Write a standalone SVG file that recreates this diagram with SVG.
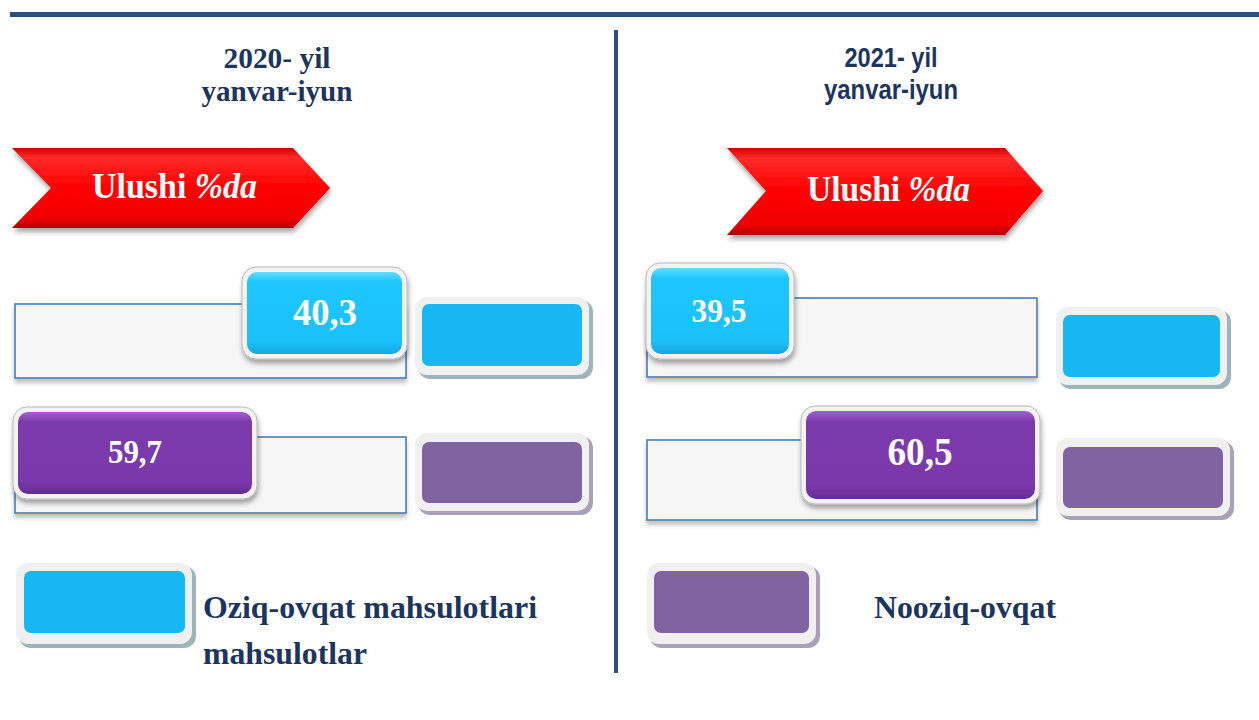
<svg xmlns="http://www.w3.org/2000/svg" width="1259" height="720" viewBox="0 0 1259 720">
<defs>
<style>
.navy{fill:#1c355e}
.ttl{font-family:"Liberation Serif","Times New Roman",serif;font-weight:bold;font-size:30px;text-anchor:middle}
.ttlA{font-family:"Liberation Sans",Arial,sans-serif;font-weight:bold;font-size:27px;text-anchor:middle}
.ban{font-family:"Liberation Serif","Times New Roman",serif;font-weight:bold;font-size:35px;fill:#fff}
.val{font-family:"Liberation Serif","Times New Roman",serif;font-weight:bold;fill:#fff;text-anchor:middle}
.leg{font-family:"Liberation Serif","Times New Roman",serif;font-weight:bold;font-size:32px}
.bar{fill:#f6f6f6;stroke:#4a7ebb;stroke-width:1.6}
.frame{fill:#f3f3f3;stroke:#b9b9b9;stroke-width:1}
.lgOut{fill:#f0f0f0}
</style>
<linearGradient id="red" x1="0" y1="0" x2="0" y2="1">
<stop offset="0" stop-color="#d80000"/>
<stop offset="0.12" stop-color="#ff2a2a"/>
<stop offset="0.5" stop-color="#ff0000"/>
<stop offset="0.88" stop-color="#f00000"/>
<stop offset="1" stop-color="#b00000"/>
</linearGradient>
<linearGradient id="blue" x1="0" y1="0" x2="0" y2="1">
<stop offset="0" stop-color="#63dcff"/>
<stop offset="0.12" stop-color="#1ec6ff"/>
<stop offset="0.85" stop-color="#1bc0fa"/>
<stop offset="1" stop-color="#16a8e0"/>
</linearGradient>
<linearGradient id="purple" x1="0" y1="0" x2="0" y2="1">
<stop offset="0" stop-color="#a35fd0"/>
<stop offset="0.12" stop-color="#7c3bad"/>
<stop offset="0.85" stop-color="#7a38aa"/>
<stop offset="1" stop-color="#642d93"/>
</linearGradient>
<filter id="sh" x="-10%" y="-20%" width="125%" height="160%">
<feDropShadow dx="1" dy="4" stdDeviation="2.5" flood-color="#000" flood-opacity="0.35"/>
</filter>
<filter id="shs" x="-10%" y="-20%" width="125%" height="160%">
<feDropShadow dx="0" dy="4" stdDeviation="2" flood-color="#000" flood-opacity="0.25"/>
</filter>
</defs>

<rect width="1259" height="720" fill="#fff"/>

<g id="frame-lines">
<rect x="10" y="12" width="1249" height="5" fill="#2a4f80"/>
<rect x="614" y="30" width="4" height="643" fill="#2a4f80"/>
</g>

<g id="title-2020">
<text class="ttl navy" x="277" y="68" textLength="107" lengthAdjust="spacingAndGlyphs">2020- yil</text>
<text class="ttl navy" x="277" y="101" textLength="151" lengthAdjust="spacingAndGlyphs">yanvar-iyun</text>
</g>
<g id="title-2021">
<text class="ttlA navy" x="891" y="67" textLength="93" lengthAdjust="spacingAndGlyphs">2021- yil</text>
<text class="ttlA navy" x="891" y="99" textLength="134" lengthAdjust="spacingAndGlyphs">yanvar-iyun</text>
</g>

<g id="banner-2020">
<path d="M12,148 L293,148 L330,188 L293,228 L12,228 L51,188 Z" fill="url(#red)" filter="url(#sh)"/>
<text class="ban" x="92" y="198" textLength="165" lengthAdjust="spacingAndGlyphs">Ulushi <tspan font-style="italic">%da</tspan></text>
</g>
<g id="banner-2021">
<path d="M727,148 L1005,148 L1043,191 L1005,235 L727,235 L766,191 Z" fill="url(#red)" filter="url(#sh)"/>
<text class="ban" x="807" y="201" textLength="163" lengthAdjust="spacingAndGlyphs">Ulushi <tspan font-style="italic">%da</tspan></text>
</g>

<g id="bar-2020-food">
<rect class="bar" x="15" y="304" width="391" height="74" filter="url(#shs)"/>
<rect class="frame" x="242" y="267" width="165" height="92" rx="14" filter="url(#sh)"/>
<rect x="247" y="272" width="155" height="82" rx="10" fill="url(#blue)"/>
<text class="val" x="325" y="325" font-size="38" textLength="64" lengthAdjust="spacingAndGlyphs">40,3</text>
</g>
<g id="swatch-2020-food">
<rect x="418" y="300" width="175" height="79" rx="12" fill="#9db4bb"/>
<rect class="lgOut" x="415" y="297" width="174" height="78" rx="12"/>
<rect x="422" y="304" width="160" height="62" rx="7" fill="#17b7f4"/>
</g>

<g id="bar-2020-nonfood">
<rect class="bar" x="15" y="437" width="391" height="76" filter="url(#shs)"/>
<rect class="frame" x="13" y="407" width="244" height="92" rx="14" filter="url(#sh)"/>
<rect x="18" y="412" width="234" height="82" rx="10" fill="url(#purple)"/>
<text class="val" x="135" y="463" font-size="33" textLength="54" lengthAdjust="spacingAndGlyphs">59,7</text>
</g>
<g id="swatch-2020-nonfood">
<rect x="418" y="436" width="175" height="79" rx="12" fill="#aaa0b8"/>
<rect class="lgOut" x="415" y="433" width="174" height="78" rx="12"/>
<rect x="422" y="442" width="160" height="61" rx="7" fill="#8064a2"/>
</g>

<g id="bar-2021-food">
<rect class="bar" x="647" y="298" width="390" height="79" filter="url(#shs)"/>
<rect class="frame" x="646" y="263" width="148" height="96" rx="14" filter="url(#sh)"/>
<rect x="651" y="268" width="138" height="86" rx="10" fill="url(#blue)"/>
<text class="val" x="719" y="322" font-size="33" textLength="55" lengthAdjust="spacingAndGlyphs">39,5</text>
</g>
<g id="swatch-2021-food">
<rect x="1059" y="310" width="172" height="79" rx="12" fill="#9db4bb"/>
<rect class="lgOut" x="1056" y="307" width="171" height="78" rx="12"/>
<rect x="1063" y="315" width="157" height="62" rx="7" fill="#17b7f4"/>
</g>

<g id="bar-2021-nonfood">
<rect class="bar" x="647" y="440" width="390" height="80" filter="url(#shs)"/>
<rect class="frame" x="801" y="406" width="239" height="98" rx="14" filter="url(#sh)"/>
<rect x="806" y="411" width="229" height="88" rx="10" fill="url(#purple)"/>
<text class="val" x="920" y="465" font-size="39" textLength="65" lengthAdjust="spacingAndGlyphs">60,5</text>
</g>
<g id="swatch-2021-nonfood">
<rect x="1059" y="441" width="175" height="79" rx="12" fill="#aaa0b8"/>
<rect class="lgOut" x="1056" y="438" width="174" height="78" rx="12"/>
<rect x="1063" y="447" width="160" height="61" rx="7" fill="#8064a2"/>
</g>

<g id="legend-food">
<rect x="19" y="566" width="177" height="82" rx="12" fill="#9db4bb"/>
<rect class="lgOut" x="16" y="563" width="176" height="81" rx="12"/>
<rect x="24" y="571" width="161" height="62" rx="7" fill="#17b7f4"/>
<text class="leg navy" x="203" y="618" textLength="334" lengthAdjust="spacingAndGlyphs">Oziq-ovqat mahsulotlari</text>
<text class="leg navy" x="203" y="664" textLength="164" lengthAdjust="spacingAndGlyphs">mahsulotlar</text>
</g>
<g id="legend-nonfood">
<rect x="650" y="566" width="170" height="82" rx="12" fill="#aaa0b8"/>
<rect class="lgOut" x="647" y="563" width="169" height="81" rx="12"/>
<rect x="654" y="571" width="155" height="62" rx="7" fill="#8064a2"/>
<text class="leg navy" x="874" y="618" textLength="182" lengthAdjust="spacingAndGlyphs">Nooziq-ovqat</text>
</g>
</svg>
